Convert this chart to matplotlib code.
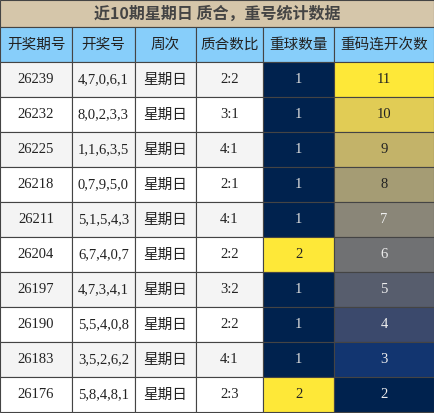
import matplotlib
matplotlib.use("Agg")
import matplotlib.pyplot as plt
from matplotlib.patches import Rectangle
from matplotlib import cm, colors

title = "近10期星期日 质合，重号统计数据"
headers = ["开奖期号", "开奖号", "周次", "质合数比", "重球数量", "重码连开次数"]
periods = ["26239","26232","26225","26218","26211","26204","26197","26190","26183","26176"]
numbers = ["4,7,0,6,1","8,0,2,3,3","1,1,6,3,5","0,7,9,5,0","5,1,5,4,3","6,7,4,0,7","4,7,3,4,1","5,5,4,0,8","3,5,2,6,2","5,8,4,8,1"]
weekday = ["星期日"]*10
ratios = ["2:2","3:1","4:1","2:1","4:1","2:2","3:2","2:2","4:1","2:3"]
repeat_balls = [1,1,1,1,1,2,1,1,1,2]
repeat_runs = [11,10,9,8,7,6,5,4,3,2]

W, H = 434, 413
fig = plt.figure(figsize=(W/100, H/100), dpi=100)
ax = fig.add_axes([0, 0, 1, 1])
ax.set_xlim(0, W); ax.set_ylim(H, 0); ax.axis("off")

xs = [0, 72, 135, 196, 263, 334, 434]
cjk = ["Noto Sans CJK SC", "DejaVu Sans"]
serif = ["Liberation Serif", "Noto Sans CJK SC"]
cmap = matplotlib.colormaps["cividis"]

def cell(x0, x1, y0, y1, fc, text, fam, color="#222222", size=10.5, weight="normal"):
    ax.add_patch(Rectangle((x0, y0), x1-x0, y1-y0, facecolor=fc, edgecolor="#444444", lw=0.8))
    ax.text((x0+x1)/2, (y0+y1)/2, text, ha="center", va="center", family=fam,
            color=color, fontsize=size, weight=weight)

cell(0, W, 0, 27, "#d5c6aa", title, cjk, color="#444444", size=11.5, weight="bold")
for i, h in enumerate(headers):
    cell(xs[i], xs[i+1], 27, 62, "#87cefa", h, cjk, color="#222222", size=10.5)

nb = colors.Normalize(min(repeat_balls), max(repeat_balls))
nr = colors.Normalize(min(repeat_runs), max(repeat_runs))
rh = 35
for r in range(10):
    y0 = 62 + r*rh; y1 = y0 + rh
    fc = "#f4f4f4" if r % 2 == 0 else "#ffffff"
    cell(xs[0], xs[1], y0, y1, fc, periods[r], serif, size=10.5)
    cell(xs[1], xs[2], y0, y1, fc, numbers[r], serif, size=10.5)
    cell(xs[2], xs[3], y0, y1, fc, weekday[r], cjk, size=10.5)
    cell(xs[3], xs[4], y0, y1, fc, ratios[r], serif, size=10.5)
    v = nb(repeat_balls[r]); c = cmap(v)
    cell(xs[4], xs[5], y0, y1, c, str(repeat_balls[r]), serif,
         color="#dddddd" if v < 0.5 else "#222222", size=10.5)
    v = nr(repeat_runs[r]); c = cmap(v)
    cell(xs[5], xs[6], y0, y1, c, str(repeat_runs[r]), serif,
         color="#eeeeee" if v < 0.6 else "#222222", size=10.5)

fig.savefig("out.png", dpi=100)
